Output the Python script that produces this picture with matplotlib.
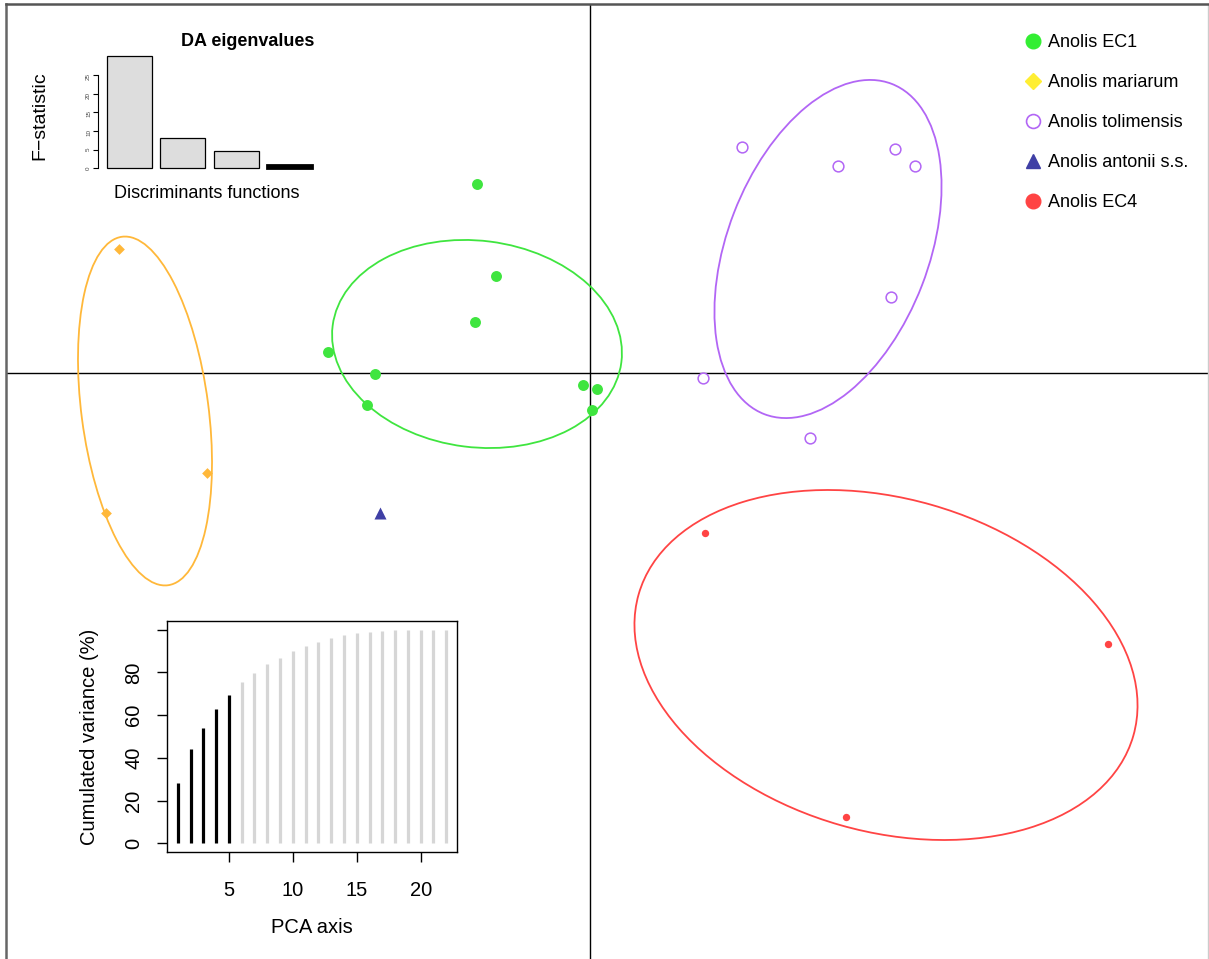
import numpy as np
import matplotlib
matplotlib.use("Agg")
import matplotlib.pyplot as plt
from matplotlib.patches import Ellipse
from matplotlib.lines import Line2D

plt.rcParams['font.family'] = ['Liberation Sans', 'DejaVu Sans']

# discriminant scores (LD1, LD2)
ec1_x = [-2.26, -1.88, -2.30, -5.24, -4.30, -4.46, -0.14, 0.14, 0.04]
ec1_y = [3.78, 1.94, 1.02, 0.42, -0.02, -0.64, -0.24, -0.32, -0.74]
mar_x = [-9.42, -7.66, -9.68]
mar_y = [2.48, -2.00, -2.80]
tol_x = [3.04, 4.96, 6.10, 6.50, 6.02, 2.26, 4.40]
tol_y = [4.52, 4.14, 4.48, 4.14, 1.52, -0.10, -1.30]
ant_x = [-4.20]
ant_y = [-2.80]
ec4_x = [2.30, 10.36, 5.12]
ec4_y = [-3.20, -5.42, -8.88]

# inertia ellipses: centre x, centre y, width, height, angle
ell_ec1 = (-2.26, 0.58, 5.82, 4.13, -7.2)
ell_mar = (-8.90, -0.76, 7.03, 2.54, 97.5)
ell_tol = (4.76, 2.48, 7.08, 4.03, 68.9)
ell_ec4 = (5.92, -5.84, 10.29, 6.66, -15.95)

da_eig = [30.0, 8.0, 4.6, 1.0]
pca_cumvar = [28.3, 44.3, 53.9, 62.7, 69.4, 75.3, 79.8, 83.7, 86.8, 90.0, 92.5,
              94.3, 95.9, 97.3, 98.2, 98.9, 99.3, 99.6, 99.8, 99.9, 100.0, 100.0]
n_retained = 5

labels = ["Anolis EC1", "Anolis mariarum", "Anolis tolimensis",
          "Anolis antonii s.s.", "Anolis EC4"]

green = "#3FE53F"
orange = "#FFB83A"
purple = "#B266F5"
navy = "#3F3FA5"
red = "#FF4444"

W, H = 1209, 959
fig = plt.figure(figsize=(W / 100, H / 100), dpi=100)

ax = fig.add_axes([6 / W, 0, (1208 - 6) / W, (H - 4) / H])
ax.set_xlim((6 - 590) / 50, (1208 - 590) / 50)
ax.set_ylim((373 - 959) / 50, (373 - 4) / 50)
ax.set_xticks([])
ax.set_yticks([])
ax.spines['bottom'].set_visible(False)
ax.spines['top'].set_color("#555555")
ax.spines['top'].set_linewidth(1.8)
ax.spines['left'].set_color("#666666")
ax.spines['left'].set_linewidth(1.8)
ax.spines['right'].set_color("#cccccc")
ax.spines['right'].set_linewidth(1)

ax.axhline(0, color="black", lw=1, zorder=1)
ax.axvline(0, color="black", lw=1, zorder=1)

for (cx, cy, w, h, a), col in [(ell_ec1, green), (ell_mar, orange),
                                 (ell_tol, purple), (ell_ec4, red)]:
    ax.add_patch(Ellipse((cx, cy), w, h, angle=a, fill=False, ec=col, lw=1.3, zorder=2))

ax.scatter(ec1_x, ec1_y, s=62, color=green, lw=0, zorder=3)
ax.scatter(mar_x, mar_y, s=30, marker="D", color=orange, lw=0, zorder=3)
ax.scatter(tol_x, tol_y, s=60, facecolor="white", edgecolor=purple, lw=1.1, zorder=3)
ax.scatter(ant_x, ant_y, s=75, marker="^", color=navy, lw=0, zorder=3)
ax.scatter(ec4_x, ec4_y, s=28, color=red, lw=0, zorder=3)

handles = [
    Line2D([], [], ls="", marker="o", ms=10.5, mfc="#33EE33", mec="#33EE33"),
    Line2D([], [], ls="", marker="D", ms=8, mfc="#FFEE33", mec="#FFEE33"),
    Line2D([], [], ls="", marker="o", ms=10, mfc="white", mec=purple, mew=1.2),
    Line2D([], [], ls="", marker="^", ms=10.5, mfc=navy, mec=navy),
    Line2D([], [], ls="", marker="o", ms=10.5, mfc=red, mec=red),
]
ax.legend(handles, labels, loc="upper left", bbox_to_anchor=((1019 - 6) / 1202, 1 - 23 / 955),
          frameon=False, fontsize=13, handlelength=0.8, handletextpad=0.4,
          labelspacing=1.27, borderaxespad=0)

# inset: DA eigenvalues
a1 = fig.add_axes([98 / W, 1 - 168.3 / H, 214 / W, 111.9 / H])
xs = [0.7 + 1.2 * i for i in range(len(da_eig))]
cols = ["#DDDDDD"] * (len(da_eig) - 1) + ["black"]
lws = [0.9] * (len(da_eig) - 1) + [2.0]
a1.bar(xs, da_eig, width=1.0, color=cols, edgecolor="black", lw=lws, clip_on=False)
a1.set_xlim(0, 4.8)
a1.set_ylim(0, 30)
for s in ['top', 'right', 'bottom']:
    a1.spines[s].set_visible(False)
a1.spines['left'].set_bounds(0, 25)
a1.spines['left'].set_linewidth(0.8)
a1.set_xticks([])
a1.set_yticks([0, 5, 10, 15, 20, 25])
a1.tick_params(axis='y', labelsize=4.5, length=3.5, width=0.8, pad=1.5, labelrotation=90,
               labelcolor="#444444")
fig.text(248 / W, 1 - 42 / H, "DA eigenvalues", ha="center", va="center",
         fontsize=13, fontweight="bold")
fig.text(207 / W, 1 - 194 / H, "Discriminants functions", ha="center", va="center",
         fontsize=13)
fig.text(40 / W, 1 - 116 / H, "F\u2212statistic", ha="center", va="center",
         fontsize=14, rotation=90)

# inset: cumulated variance of retained PCA axes
a2 = fig.add_axes([167 / W, 1 - 852 / H, (457 - 167) / W, (852 - 621) / H])
pcs = np.arange(1, len(pca_cumvar) + 1)
lcols = ["black" if p <= n_retained else "#D6D6D6" for p in pcs]
a2.vlines(pcs, 0, pca_cumvar, colors=lcols, lw=2.3)
a2.set_xlim(0.16, 22.84)
a2.set_ylim(-4, 104)
for s in a2.spines.values():
    s.set_linewidth(1)
a2.set_xticks([5, 10, 15, 20])
a2.set_yticks([0, 20, 40, 60, 80, 100])
a2.set_yticklabels(["0", "20", "40", "60", "80", ""])
a2.tick_params(axis='both', labelsize=14.5, length=7, width=1)
a2.tick_params(axis='x', pad=14)
a2.tick_params(axis='y', pad=10, labelrotation=90)
for t in a2.get_yticklabels():
    t.set_va("center")
a2.set_xlabel("PCA axis", fontsize=14.5, labelpad=13)
a2.set_ylabel("Cumulated variance (%)", fontsize=14.5, labelpad=18)

fig.savefig("out.png", dpi=100)
